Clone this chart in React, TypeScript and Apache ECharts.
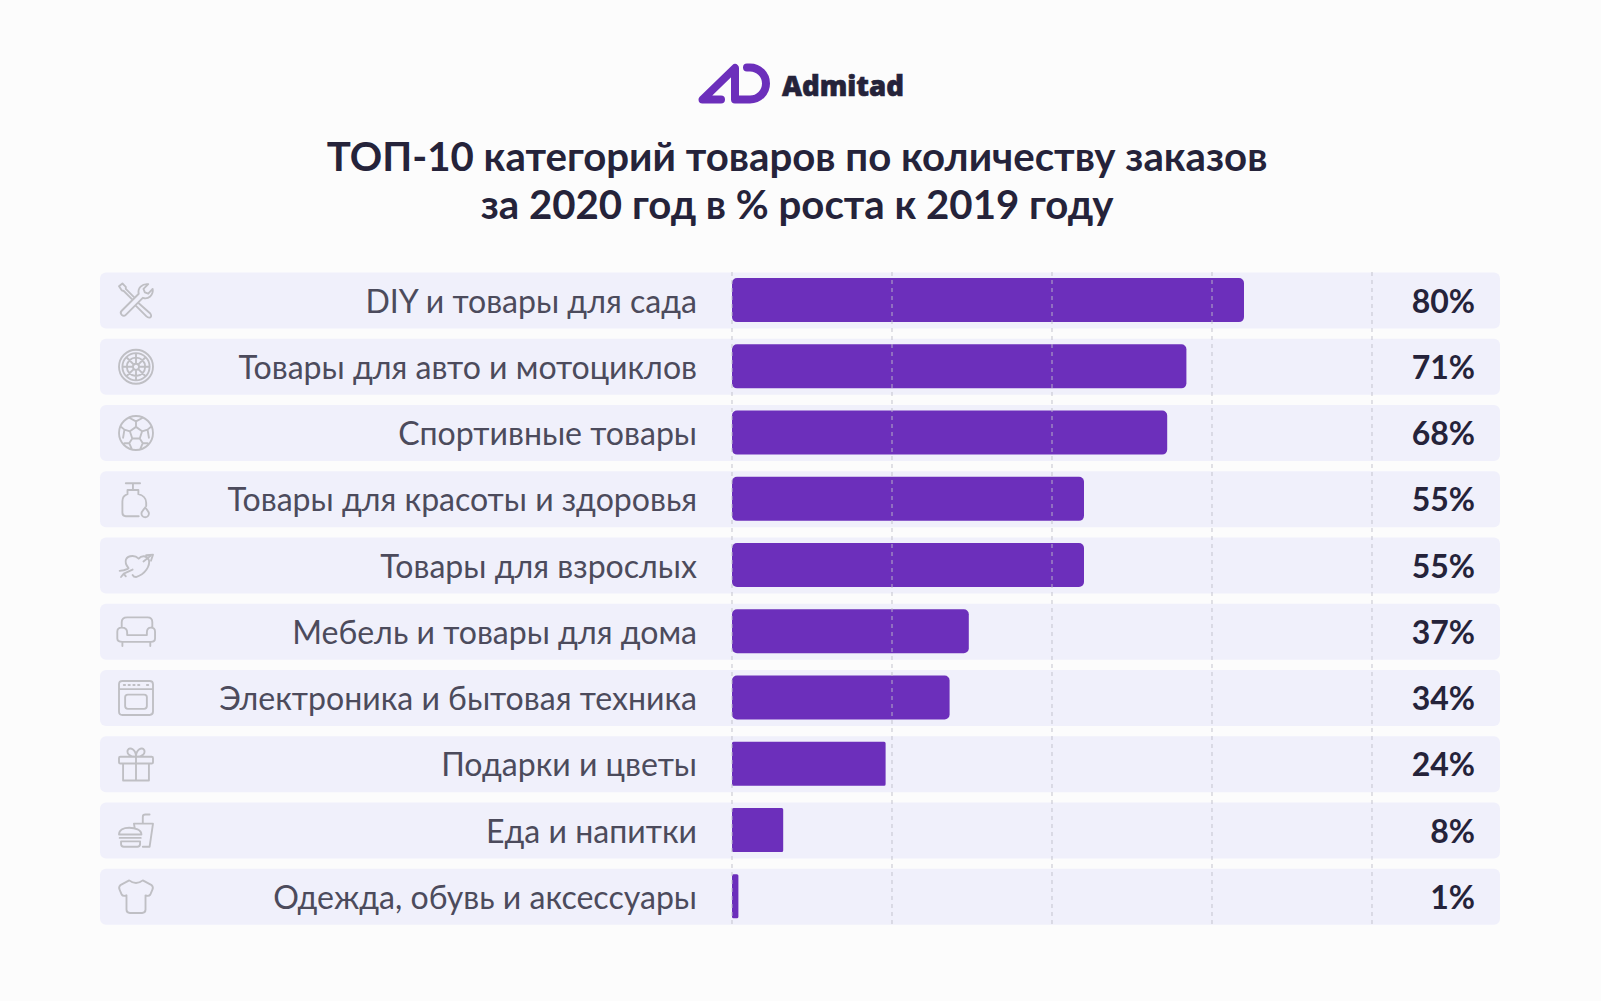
import React, { useEffect, useRef } from "react";
import * as echarts from "echarts";

const categories = [
  "DIY и товары для сада",
  "Товары для авто и мотоциклов",
  "Спортивные товары",
  "Товары для красоты и здоровья",
  "Товары для взрослых",
  "Мебель и товары для дома",
  "Электроника и бытовая техника",
  "Подарки и цветы",
  "Еда и напитки",
  "Одежда, обувь и аксессуары",
];
const values = [80, 71, 68, 55, 55, 37, 34, 24, 8, 1];
const gridTicks = [0, 25, 50, 75, 100];
const titleText = "ТОП-10 категорий товаров по количеству заказов\nза 2020 год в % роста к 2019 году";
const brand = "Admitad";

const circle = (cx: number, cy: number, r: number) =>
  `M${cx - r} ${cy}A${r} ${r} 0 1 0 ${cx + r} ${cy}A${r} ${r} 0 1 0 ${cx - r} ${cy}Z`;

const iconPaths = [
  "M8 80L58 30C54 14 68 0 86 2L72 16L76 26L86 30L99 16C102 34 86 48 70 42L20 92C12 100 0 88 8 80ZM44 40L20 16L20 10L10 0L0 8L8 20L14 22L38 46M58 58L92 88C100 100 88 104 80 96L50 66",
  circle(50, 50, 50) + circle(50, 50, 40) + circle(50, 50, 27) + circle(50, 50, 9) +
    "M50 10V41M50 59V90M10 50H41M59 50H90M22 22L44 44M56 56L78 78M78 22L56 44M44 56L22 78",
  circle(50, 50, 50) +
    "M50 32L68 45L61 66L39 66L32 45ZM30 5L50 16L70 5M50 16V32M96 30L84 40L88 64M84 40L68 45M84 80L70 80L62 98M70 80L61 66M16 80L30 80L38 98M30 80L39 66M4 30L16 40L12 64M16 40L32 45",
  "M20 3H62M41 3V23M25 23H57V35M57 35C70 38 80 48 80 60V70M25 23V35C15 38 10 46 10 56V90Q10 100 20 100H58M77 74C72 82 66 86 66 92A11 11 0 0 0 88 92C88 86 82 82 77 74Z",
  "M28 58C12 38 20 22 40 22C48 22 54 26 58 30C66 20 82 20 88 34C92 50 78 76 50 84C44 84 42 82 40 78M92 22L72 38M80 20L100 18L94 36M40 62L14 74M2 66L14 64L26 60M6 84L14 74L20 82",
  "M8 38V22Q8 8 24 8H84Q98 8 98 22V38M24 52V60H82V52Q82 38 94 38Q106 38 106 50V70Q106 80 94 80H10Q-5 80 -5 70V50Q-5 38 8 38Q24 38 24 52ZM10 80V92M92 80V92",
  "M10 0H90Q100 0 100 10V90Q100 100 90 100H10Q0 100 0 90V10Q0 0 10 0ZM0 24H100M26 40H74Q82 40 82 48V74Q82 82 74 82H26Q18 82 18 74V48Q18 40 26 40ZM14 12H18M28 12H32M42 12H46M56 12H60M82 12H86",
  "M4 28H96Q100 28 100 32V44Q100 48 96 48H4Q0 48 0 44V32Q0 28 4 28ZM12 48V98H88V48M50 28V98M50 28C30 28 22 18 26 8C32 -2 50 6 50 28C50 6 68 -2 74 8C78 18 70 28 50 28",
  "M0 62C0 48 14 42 30 42C48 42 66 48 66 62ZM2 72H64M6 82H62V90Q62 98 54 98H14Q6 98 6 90ZM44 30H100L90 98H70M44 30L46 42M70 30V10Q70 3 78 3H90",
  "M30 2L4 16Q-2 22 2 30L8 44Q12 50 22 46V88Q22 98 32 98H68Q78 98 78 88V46Q88 50 92 44L98 30Q102 22 96 16L70 2Q50 18 30 2Z",
];

const logoMark = "M721 99.5H702.5L735 68V99.5H750A16 16 0 0 0 750 67.5H747";

echarts.graphic.registerShape("logoMark", echarts.graphic.extendPath(logoMark, {}) as any);
iconPaths.forEach((d, i) => {
  echarts.graphic.registerShape("rowIcon" + i, echarts.graphic.extendPath(d, {}) as any);
});

const FONT = "Lato";

export default function App() {
  const ref = useRef<HTMLDivElement>(null);
  useEffect(() => {
    document.body.style.margin = "0";
    document.body.style.background = "#fcfcfc";
    const chart = echarts.init(ref.current!, undefined, { renderer: "svg" });
    chart.setOption({
      animation: false,
      backgroundColor: "#fcfcfc",
      textStyle: { fontFamily: FONT },
      title: {
        text: titleText,
        left: 792,
        textAlign: "center",
        top: 126,
        textStyle: { fontFamily: FONT, fontSize: 40.2, fontWeight: 700, color: "#25233a", lineHeight: 48 },
      },
      graphic: [
        { type: "logoMark", style: { fill: "none", stroke: "#6c2fbb", lineWidth: 8, lineCap: "round", lineJoin: "round" } },
        { type: "text", x: 782, y: 84.5, style: { text: brand, font: `900 27.6px "Noto Sans"`, fill: "#25233a", stroke: "#25233a", lineWidth: 0.6, textVerticalAlign: "middle" } },
      ],
      grid: { left: 732, right: 229, top: 267, bottom: 71.6 },
      xAxis: {
        type: "value",
        min: 0,
        max: 100,
        interval: 25,
        axisLabel: { show: false },
        axisLine: { show: false },
        axisTick: { show: false },
        splitLine: { show: false },
      },
      yAxis: [
        {
          type: "category",
          inverse: true,
          data: categories,
          z: 5,
          axisLine: { show: false },
          axisTick: { show: false },
          axisLabel: { margin: 35, fontFamily: FONT, fontSize: 32.1, color: "#4c4b5c", padding: [0, 0, 6, 0] },
        },
        {
          type: "category",
          inverse: true,
          position: "right",
          data: values.map((v) => v + "%"),
          z: 5,
          axisLine: { show: false },
          axisTick: { show: false },
          axisLabel: { margin: 103, align: "right", fontFamily: FONT, fontSize: 32, fontWeight: 700, color: "#25233a", padding: [0, 0, 4, 0] },
        },
      ],
      series: [
        {
          name: "rows",
          type: "custom",
          z: 1,
          silent: true,
          data: categories.map((_, i) => [0, i]),
          encode: { x: 0, y: 1 },
          renderItem: (params: any, api: any) => {
            const i = params.dataIndex;
            const cy = api.coord([0, i])[1] + 0.4;
            const band = api.size([0, 1])[1];
            const h = band * 0.845;
            return {
              type: "group",
              children: [
                { type: "rect", shape: { x: 100, y: cy - h / 2, width: 1400, height: h, r: 6 }, style: { fill: "#f0f0fb" } },
                {
                  type: "rowIcon" + i,
                  x: 119,
                  y: cy - 50 * 0.34,
                  scaleX: 0.34,
                  scaleY: 0.34,
                  style: { fill: "none", stroke: "#bfbfc4", lineWidth: 5.5, lineCap: "round", lineJoin: "round" },
                },
              ],
            };
          },
        },
        {
          name: "Рост",
          type: "bar",
          z: 2,
          data: values.map((v) => ({ value: v, itemStyle: { borderRadius: v >= 30 ? 5 : 1.5 } })),
          barWidth: 44,
          itemStyle: { color: "#6c2fbb" },
        },
        {
          name: "grid",
          type: "custom",
          z: 3,
          silent: true,
          data: gridTicks.map((v) => [v, 0]),
          encode: { x: 0, y: 1 },
          renderItem: (_: any, api: any) => {
            const x = api.coord([api.value(0), 0])[0];
            const y0 = api.coord([0, 0])[1];
            const y1 = api.coord([0, categories.length - 1])[1];
            return {
              type: "line",
              shape: { x1: x, y1: y0 - 28, x2: x, y2: y1 + 29 },
              style: { stroke: "rgba(190,190,200,0.75)", lineWidth: 1.2, lineDash: [4, 4], fill: "none" },
            };
          },
        },
      ],
    });
    return () => chart.dispose();
  }, []);
  return <div ref={ref} style={{ width: 1601, height: 1001 }} />;
}
